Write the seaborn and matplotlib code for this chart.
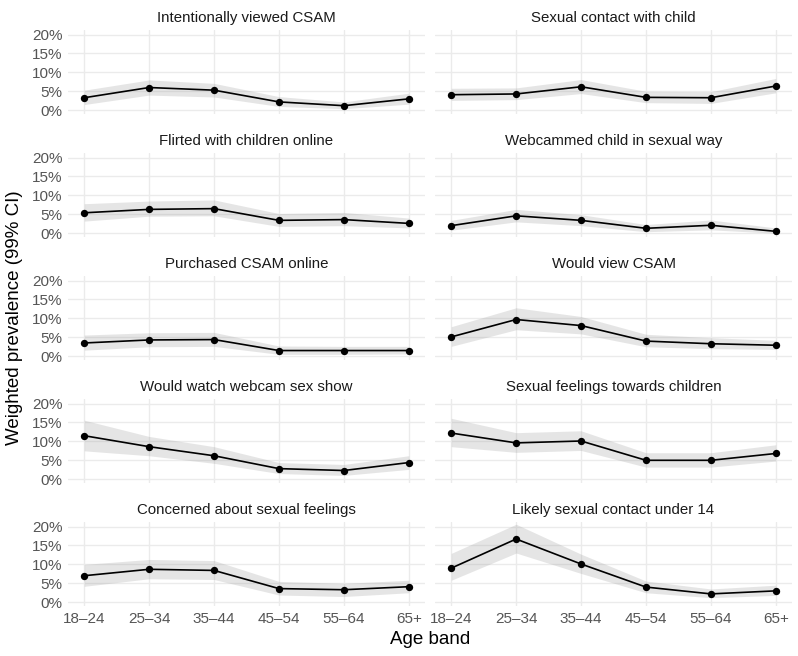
import numpy as np
import pandas as pd
import matplotlib
matplotlib.use("Agg")
import matplotlib.pyplot as plt
from matplotlib.ticker import PercentFormatter
import seaborn as sns

age_bands = ["18–24", "25–34", "35–44", "45–54", "55–64", "65+"]

panels = [
    "Intentionally viewed CSAM",
    "Sexual contact with child",
    "Flirted with children online",
    "Webcammed child in sexual way",
    "Purchased CSAM online",
    "Would view CSAM",
    "Would watch webcam sex show",
    "Sexual feelings towards children",
    "Concerned about sexual feelings",
    "Likely sexual contact under 14",
]

# weighted prevalence (%) per age band, one row per panel
estimate = [
    [3.3, 6.0, 5.3, 2.2, 1.2, 3.0],
    [4.1, 4.3, 6.2, 3.4, 3.3, 6.4],
    [5.4, 6.3, 6.5, 3.4, 3.6, 2.6],
    [2.0, 4.6, 3.4, 1.3, 2.1, 0.5],
    [3.5, 4.3, 4.4, 1.5, 1.5, 1.5],
    [5.1, 9.7, 8.1, 4.0, 3.3, 2.9],
    [11.5, 8.6, 6.2, 2.8, 2.3, 4.4],
    [12.2, 9.6, 10.1, 5.0, 5.0, 6.8],
    [7.0, 8.7, 8.4, 3.6, 3.3, 4.1],
    [9.0, 16.7, 10.1, 4.0, 2.2, 3.0],
]
# 99% CI lower / upper bounds
lower = [
    [1.5, 4.0, 3.5, 1.0, 0.4, 1.6],
    [2.6, 2.8, 4.4, 2.0, 1.8, 4.6],
    [3.2, 4.5, 4.6, 1.8, 2.0, 1.4],
    [0.8, 3.0, 2.0, 0.4, 0.9, 0.0],
    [1.6, 2.5, 2.6, 0.5, 0.5, 0.6],
    [2.6, 7.0, 5.9, 2.5, 2.0, 1.8],
    [7.5, 6.2, 4.2, 1.5, 1.0, 2.6],
    [8.6, 7.1, 7.6, 3.2, 3.2, 4.8],
    [4.2, 6.2, 6.0, 1.9, 1.5, 2.5],
    [5.8, 13.0, 7.6, 2.5, 1.2, 1.8],
]
upper = [
    [5.3, 8.0, 7.1, 3.6, 2.2, 4.5],
    [5.8, 5.9, 8.1, 5.0, 4.9, 8.4],
    [7.8, 8.5, 8.8, 5.2, 5.5, 4.0],
    [3.4, 6.3, 4.9, 2.3, 3.5, 1.4],
    [5.6, 6.2, 6.3, 2.7, 2.6, 2.6],
    [7.8, 12.8, 10.5, 5.8, 4.9, 4.2],
    [15.6, 11.3, 8.6, 4.4, 3.9, 6.2],
    [16.1, 12.3, 12.8, 7.0, 7.0, 9.1],
    [10.0, 11.3, 11.0, 5.5, 5.0, 5.8],
    [12.9, 20.6, 12.7, 5.6, 3.5, 4.5],
]

rows = []
for p, name in enumerate(panels):
    for i, band in enumerate(age_bands):
        rows.append({"panel": name, "band": band, "pos": i,
                     "est": estimate[p][i], "lo": lower[p][i], "hi": upper[p][i]})
df = pd.DataFrame(rows)

sns.set_theme(style="whitegrid")
plt.rcParams["font.family"] = ["Liberation Sans", "DejaVu Sans"]

fig, axes = plt.subplots(5, 2, figsize=(7.98, 6.56), dpi=100, sharex=True, sharey=True)
fig.subplots_adjust(left=0.0852, right=0.9925, top=1 - 30 / 656, bottom=1 - 606 / 656,
                    wspace=0.028, hspace=0.464)

for ax, name in zip(axes.flat, panels):
    d = df[df["panel"] == name]
    ax.fill_between(d["pos"], d["lo"], d["hi"], color="#999999", alpha=0.25, lw=0)
    sns.lineplot(data=d, x="pos", y="est", ax=ax, color="black", lw=1.2)
    sns.scatterplot(data=d, x="pos", y="est", ax=ax, color="black", s=28,
                    edgecolor="black", linewidth=0, zorder=3)
    ax.set_title(name, fontsize=10.8, color="#1A1A1A", pad=6)
    ax.set_xlim(-0.25, 5.25)
    ax.set_ylim(-1.0, 21.2)
    ax.set_xticks(range(len(age_bands)))
    ax.set_xticklabels(age_bands)
    ax.set_yticks([0, 5, 10, 15, 20])
    ax.yaxis.set_major_formatter(PercentFormatter(decimals=0))
    ax.set_xlabel("")
    ax.set_ylabel("")
    ax.grid(True, color="#EBEBEB", lw=1.0)
    for s in ax.spines.values():
        s.set_visible(False)
    ax.tick_params(length=0, labelsize=11, labelcolor="#555555", pad=4)

fig.text(0.539, 0.012, "Age band", ha="center", va="bottom", fontsize=13.5, color="black")
fig.text(0.008, 0.515, "Weighted prevalence (99% CI)", ha="left", va="center",
         rotation=90, fontsize=13.5, color="black")

fig.savefig("out.png", dpi=100)
